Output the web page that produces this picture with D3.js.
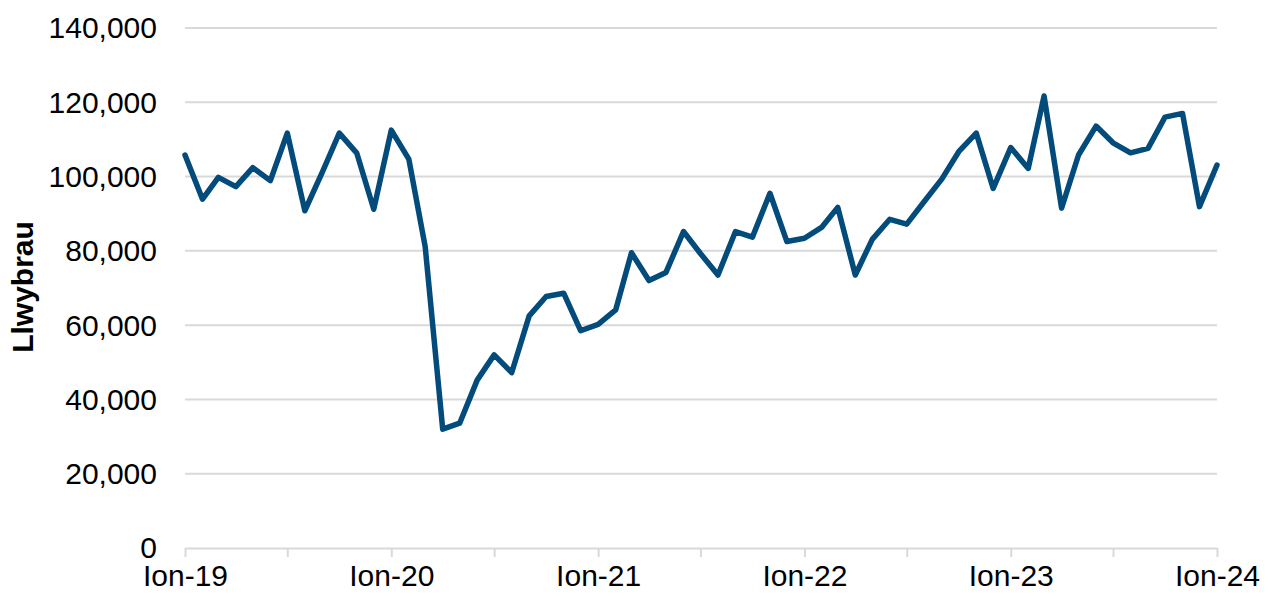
<!DOCTYPE html>
<html>
<head>
<meta charset="utf-8">
<script src="https://cdn.jsdelivr.net/npm/d3@7"></script>
<style>
  body { margin: 0; background: #fff; }
  svg text { font-family: Arial, "Liberation Sans", sans-serif; fill: #000; }
</style>
</head>
<body>
<div id="chart"></div>
<script>
// Monthly values, Jan 2019 - Jan 2024
var months = d3.range(61).map(function(i) { return new Date(2019, i, 1); });
var routes = [
    105800, 93900, 99800, 97300, 102400, 98900, 111700, 90800, 101200, 111700, 106300, 91200,
    112500, 104700, 81100, 32000, 33600, 45200, 52000, 47200, 62500, 67700, 68600, 58500,
    60200, 64100, 79500, 72000, 74200, 85200, 79300, 73500, 85200, 83700, 95500, 82500,
    83400, 86400, 91700, 73500, 83100, 88500, 87200, 93300, 99300, 106700, 111700, 96800,
    107800, 102200, 121700, 91500, 105800, 113600, 109100, 106400, 107600, 116000, 117000, 91900,
    103100
];
var yTicks = [0, 20000, 40000, 60000, 80000, 100000, 120000, 140000];
var monthNames = ['Ion', 'Chw', 'Maw', 'Ebr', 'Mai', 'Meh', 'Gor', 'Aws', 'Med', 'Hyd', 'Tach', 'Rhag'];
var yTitle = 'Llwybrau';

var W = 1269, H = 596;
var margin = { top: 28, right: 52, bottom: 48, left: 185 };
var width = W - margin.left - margin.right;
var height = H - margin.top - margin.bottom;

var svg = d3.select('#chart').append('svg').attr('width', W).attr('height', H)
    .append('g').attr('transform', 'translate(' + margin.left + ',' + margin.top + ')');

var x = d3.scaleTime().domain([months[0], months[months.length - 1]]).range([0, width]);
var y = d3.scaleLinear().domain([0, 140000]).range([height, 0]);

// gridlines
svg.append('g').selectAll('line').data(yTicks.slice(1)).enter().append('line')
    .attr('x1', 0).attr('x2', width)
    .attr('y1', function(d) { return y(d); }).attr('y2', function(d) { return y(d); })
    .attr('stroke', '#d9d9d9').attr('stroke-width', 2);

// y axis labels
var yAxis = svg.append('g').call(d3.axisLeft(y).tickValues(yTicks).tickSize(0).tickPadding(28).tickFormat(d3.format(',')));
yAxis.select('.domain').remove();
yAxis.selectAll('text').style('font-size', '30px').attr('dy', '0.33em');

// x axis: ticks every 6 months, labels every 12
var tickDates = months.filter(function(d, i) { return i % 6 === 0; });
var xAxis = svg.append('g').attr('transform', 'translate(0,' + height + ')')
    .call(d3.axisBottom(x).tickValues(tickDates).tickSizeInner(9).tickSizeOuter(0).tickPadding(8)
        .tickFormat(function(d) {
            return d.getMonth() === 0 ? monthNames[d.getMonth()] + '-' + d3.timeFormat('%y')(d) : '';
        }));
xAxis.select('.domain').attr('stroke', '#d9d9d9').attr('stroke-width', 2);
xAxis.selectAll('line').attr('stroke', '#d9d9d9').attr('stroke-width', 2);
xAxis.selectAll('text').style('font-size', '30px');

// line
var line = d3.line().x(function(d, i) { return x(months[i]); }).y(function(d) { return y(d); });
svg.append('path').datum(routes).attr('d', line)
    .attr('fill', 'none').attr('stroke', '#024b7a').attr('stroke-width', 5.5)
    .attr('stroke-linejoin', 'round').attr('stroke-linecap', 'round');

// y title
svg.append('text').attr('transform', 'rotate(-90)')
    .attr('x', -(287 - margin.top)).attr('y', -margin.left + 33)
    .attr('text-anchor', 'middle').style('font-size', '30px').style('font-weight', 'bold')
    .text(yTitle);
</script>
</body>
</html>
